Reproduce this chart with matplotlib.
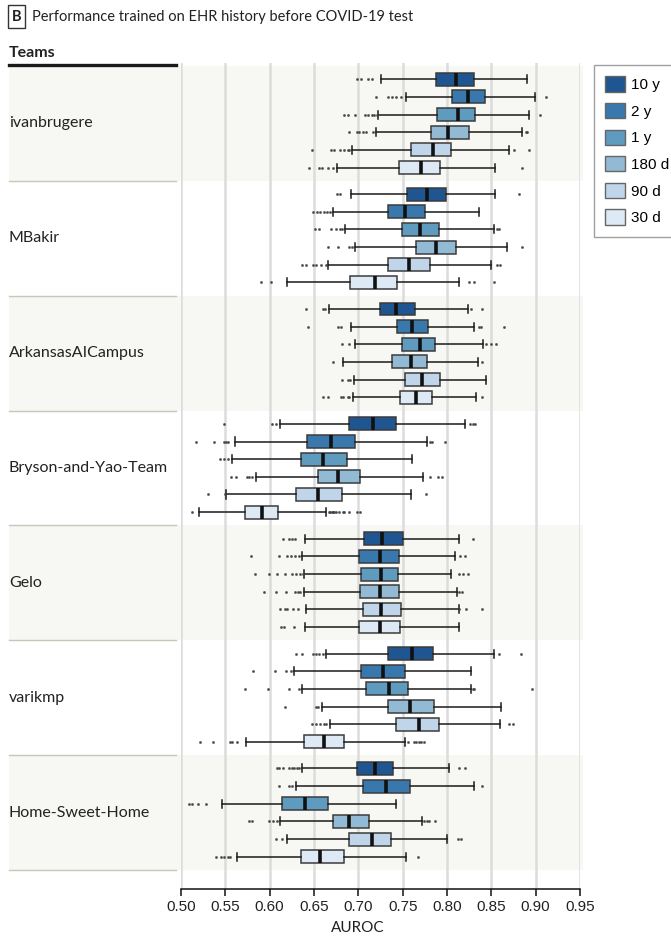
import matplotlib
matplotlib.use("Agg")
import matplotlib.pyplot as plt
from matplotlib.patches import Rectangle, Patch
from matplotlib.lines import Line2D
from matplotlib.transforms import blended_transform_factory

# ---------------- data ----------------
teams = ["ivanbrugere", "MBakir", "ArkansasAICampus", "Bryson-and-Yao-Team",
         "Gelo", "varikmp", "Home-Sweet-Home"]
periods = ["10 y", "2 y", "1 y", "180 d", "90 d", "30 d"]
colors = ["#1f5591", "#3878ad", "#5f9abf", "#92bad4", "#c0d5ea", "#dde9f4"]

whislo = [
    [0.725, 0.754, 0.722, 0.720, 0.693, 0.676],
    [0.692, 0.671, 0.685, 0.696, 0.666, 0.619],
    [0.667, 0.692, 0.696, 0.683, 0.695, 0.694],
    [0.612, 0.561, 0.557, 0.585, 0.551, 0.520],
    [0.640, 0.636, 0.639, 0.639, 0.641, 0.640],
    [0.664, 0.628, 0.637, 0.659, 0.668, 0.573],
    [0.637, 0.630, 0.546, 0.612, 0.620, 0.563],
]
q1 = [
    [0.788, 0.806, 0.789, 0.782, 0.759, 0.746],
    [0.755, 0.733, 0.749, 0.765, 0.734, 0.691],
    [0.724, 0.744, 0.749, 0.738, 0.753, 0.747],
    [0.689, 0.642, 0.635, 0.654, 0.630, 0.572],
    [0.706, 0.701, 0.703, 0.702, 0.705, 0.701],
    [0.734, 0.703, 0.709, 0.734, 0.742, 0.639],
    [0.698, 0.705, 0.614, 0.671, 0.689, 0.635],
]
med = [
    [0.810, 0.824, 0.812, 0.801, 0.784, 0.771],
    [0.777, 0.753, 0.770, 0.788, 0.757, 0.719],
    [0.743, 0.761, 0.769, 0.759, 0.772, 0.765],
    [0.717, 0.669, 0.660, 0.677, 0.655, 0.591],
    [0.727, 0.724, 0.725, 0.724, 0.726, 0.724],
    [0.761, 0.728, 0.735, 0.758, 0.768, 0.661],
    [0.719, 0.731, 0.640, 0.689, 0.715, 0.657],
]
q3 = [
    [0.830, 0.843, 0.832, 0.825, 0.805, 0.792],
    [0.799, 0.775, 0.791, 0.810, 0.781, 0.744],
    [0.764, 0.779, 0.787, 0.778, 0.792, 0.783],
    [0.743, 0.696, 0.687, 0.702, 0.682, 0.609],
    [0.750, 0.746, 0.745, 0.746, 0.748, 0.747],
    [0.784, 0.753, 0.756, 0.785, 0.791, 0.684],
    [0.739, 0.758, 0.666, 0.712, 0.737, 0.684],
]
whishi = [
    [0.890, 0.899, 0.893, 0.885, 0.870, 0.854],
    [0.854, 0.836, 0.853, 0.868, 0.850, 0.814],
    [0.824, 0.830, 0.841, 0.835, 0.844, 0.833],
    [0.820, 0.777, 0.760, 0.773, 0.759, 0.664],
    [0.814, 0.809, 0.804, 0.811, 0.813, 0.814],
    [0.853, 0.827, 0.827, 0.861, 0.860, 0.753],
    [0.802, 0.830, 0.743, 0.772, 0.800, 0.754],
]
fliers = [
    [[0.699, 0.703, 0.711, 0.715],
     [0.720, 0.734, 0.738, 0.743, 0.748, 0.912],
     [0.684, 0.688, 0.696, 0.707, 0.711, 0.715, 0.718, 0.721, 0.905],
     [0.690, 0.698, 0.701, 0.705, 0.709, 0.717, 0.889, 0.890],
     [0.648, 0.669, 0.673, 0.679, 0.684, 0.688, 0.690, 0.876, 0.893],
     [0.644, 0.656, 0.659, 0.666, 0.671, 0.885]],
    [[0.676, 0.679, 0.881],
     [0.649, 0.653, 0.657, 0.661, 0.665, 0.668],
     [0.651, 0.656, 0.669, 0.675, 0.679, 0.682, 0.856, 0.859],
     [0.666, 0.677, 0.689, 0.693, 0.885],
     [0.637, 0.641, 0.649, 0.652, 0.658, 0.663, 0.856, 0.860],
     [0.590, 0.601, 0.825, 0.830, 0.853]],
    [[0.641, 0.660, 0.662, 0.827, 0.840],
     [0.643, 0.677, 0.680, 0.836, 0.838, 0.864],
     [0.682, 0.689, 0.844, 0.850, 0.855],
     [0.671, 0.840],
     [0.682, 0.688, 0.691],
     [0.660, 0.666, 0.681, 0.683, 0.688, 0.690, 0.840]],
    [[0.548, 0.603, 0.607, 0.826, 0.829, 0.832],
     [0.517, 0.537, 0.549, 0.551, 0.553, 0.781, 0.783, 0.798],
     [0.544, 0.548, 0.553],
     [0.556, 0.562, 0.575, 0.577, 0.580, 0.781, 0.790, 0.794],
     [0.531, 0.550, 0.776],
     [0.512, 0.667, 0.668, 0.670, 0.671, 0.673, 0.675, 0.678, 0.683, 0.684,
      0.690, 0.698, 0.702]],
    [[0.615, 0.622, 0.625, 0.629, 0.829],
     [0.579, 0.610, 0.620, 0.624, 0.629, 0.633, 0.815, 0.820],
     [0.583, 0.599, 0.608, 0.617, 0.625, 0.630, 0.634, 0.638, 0.814, 0.818, 0.824],
     [0.594, 0.607, 0.618, 0.629, 0.632, 0.634, 0.814, 0.817],
     [0.612, 0.617, 0.620, 0.626, 0.632, 0.814, 0.821, 0.839],
     [0.613, 0.616, 0.628]],
    [[0.630, 0.636, 0.649, 0.652, 0.656, 0.660, 0.859, 0.883],
     [0.581, 0.606, 0.618, 0.624],
     [0.572, 0.598, 0.622, 0.633, 0.829, 0.831, 0.896],
     [0.617, 0.652, 0.655],
     [0.648, 0.652, 0.657, 0.661, 0.664, 0.870, 0.874],
     [0.521, 0.536, 0.555, 0.558, 0.563, 0.756, 0.763, 0.765, 0.768, 0.771, 0.774]],
    [[0.608, 0.611, 0.615, 0.622, 0.625, 0.628, 0.631, 0.633, 0.814, 0.820],
     [0.610, 0.622, 0.625, 0.839],
     [0.509, 0.512, 0.519, 0.528],
     [0.577, 0.580, 0.599, 0.604, 0.608, 0.774, 0.777, 0.780, 0.786],
     [0.607, 0.614, 0.812, 0.816],
     [0.540, 0.545, 0.549, 0.553, 0.555, 0.767]],
]
xticks = [0.50, 0.55, 0.60, 0.65, 0.70, 0.75, 0.80, 0.85, 0.90, 0.95]
title = "Performance trained on EHR history before COVID-19 test"

# ---------------- figure ----------------
W, H = 671, 936
fig = plt.figure(figsize=(W / 100, H / 100), dpi=100)
fx = lambda px: px / W
fy = lambda py: 1 - py / H

ax = fig.add_axes([fx(181), fy(889), fx(580) - fx(181), fy(63) - fy(889)])
ax.set_facecolor("none")
ax.set_xlim(0.50, 0.95)
unit = (870 - 66) / 7.0
ax.set_ylim(7 + (889 - 870) / unit, -(66 - 63) / unit)

trans = blended_transform_factory(fig.transFigure, ax.transData)

band_gray = "#f7f7f3"
for i, team in enumerate(teams):
    if i % 2 == 0:
        ax.add_patch(Rectangle((fx(9), i), fx(583) - fx(9), 1, transform=trans,
                               facecolor=band_gray, edgecolor="none",
                               zorder=0.1, clip_on=False))
    ax.add_line(Line2D([fx(9), fx(176)], [i + 1, i + 1], transform=trans,
                       color="#c9c5b8", lw=1.0, clip_on=False, zorder=0.2))
    ax.text(fx(9), i + 0.5, team, transform=trans, ha="left", va="center",
            fontsize=11.5, family=["Lato", "DejaVu Sans"], color="#222222",
            clip_on=False)

# top black line under "Teams"
ax.add_line(Line2D([fx(9), fx(176)], [-0.012, -0.012], transform=trans,
                   color="#1a1a1a", lw=2.4, clip_on=False, zorder=3))

# grid
ax.set_axisbelow(True)
ax.xaxis.grid(True, color="#dcdcdc", lw=1.8)
ax.yaxis.grid(False)
ax.set_yticks([])
for s in ["top", "right", "left"]:
    ax.spines[s].set_visible(False)
ax.spines["bottom"].set_color("#111111")
ax.spines["bottom"].set_linewidth(1.1)
ax.tick_params(axis="x", direction="out", length=5, width=1.1, color="#111111",
               labelsize=11, pad=3, labelcolor="#222222")

# boxes
spacing = 0.1537
stats, positions, facecols = [], [], []
for i in range(len(teams)):
    for k in range(len(periods)):
        stats.append(dict(whislo=whislo[i][k], q1=q1[i][k], med=med[i][k],
                          q3=q3[i][k], whishi=whishi[i][k], fliers=fliers[i][k]))
        positions.append(i + 0.5 + (k - 2.5) * spacing)
        facecols.append(colors[k])

kw = dict(positions=positions, widths=0.113, patch_artist=True,
          capwidths=0.07,
          boxprops=dict(edgecolor="#3c3c3c", linewidth=1.1),
          medianprops=dict(color="#111111", linewidth=2.6),
          whiskerprops=dict(color="#1a1a1a", linewidth=1.1),
          capprops=dict(color="#1a1a1a", linewidth=1.1),
          flierprops=dict(marker="o", markersize=1.6, markerfacecolor="#444444",
                          markeredgecolor="#444444", markeredgewidth=0.3,
                          linestyle="none"),
          manage_ticks=False, zorder=2)
try:
    bp = ax.bxp(stats, orientation="horizontal", **kw)
except TypeError:
    bp = ax.bxp(stats, vert=False, **kw)
for b, c in zip(bp["boxes"], facecols):
    b.set_facecolor(c)

ax.set_xticks(xticks)
ax.set_xticklabels([f"{v:.2f}" for v in xticks])
for lab in ax.get_xticklabels():
    lab.set_family(["Liberation Sans", "DejaVu Sans"])

# x label (centred near x=358 px in the reference)
fig.text(fx(358), fy(928), "AUROC", ha="center", va="center", fontsize=11,
         family=["Lato", "DejaVu Sans"], color="#222222")

# title
fig.patches.append(Rectangle((fx(8), fy(28)), fx(25) - fx(8), fy(5) - fy(28),
                             transform=fig.transFigure, fill=False,
                             edgecolor="#333333", lw=1.0))
fig.text(fx(16.5), fy(17), "B", ha="center", va="center", fontsize=10.5,
         fontweight="bold", family=["Lato", "DejaVu Sans"], color="#222222")
fig.text(fx(32), fy(17), title, ha="left", va="center", fontsize=10.5,
         family=["Lato", "DejaVu Sans"], color="#222222")
fig.text(fx(9), fy(53), "Teams", ha="left", va="center", fontsize=11.5,
         fontweight="bold", family=["Lato", "DejaVu Sans"], color="#222222")

# legend
handles = [Patch(facecolor=c, edgecolor="#666666", lw=1.0) for c in colors]
leg = fig.legend(handles, periods, loc="upper left",
                 bbox_to_anchor=(fx(594), fy(65)), frameon=True, fancybox=False,
                 edgecolor="#888888", handlelength=1.25,
                 handleheight=1.15, labelspacing=0.71, handletextpad=0.45,
                 borderpad=0.75, borderaxespad=0,
                 prop=dict(family=["Liberation Sans", "DejaVu Sans"], size=11))
leg.get_frame().set_linewidth(1.0)

fig.savefig("out.png", dpi=100)
